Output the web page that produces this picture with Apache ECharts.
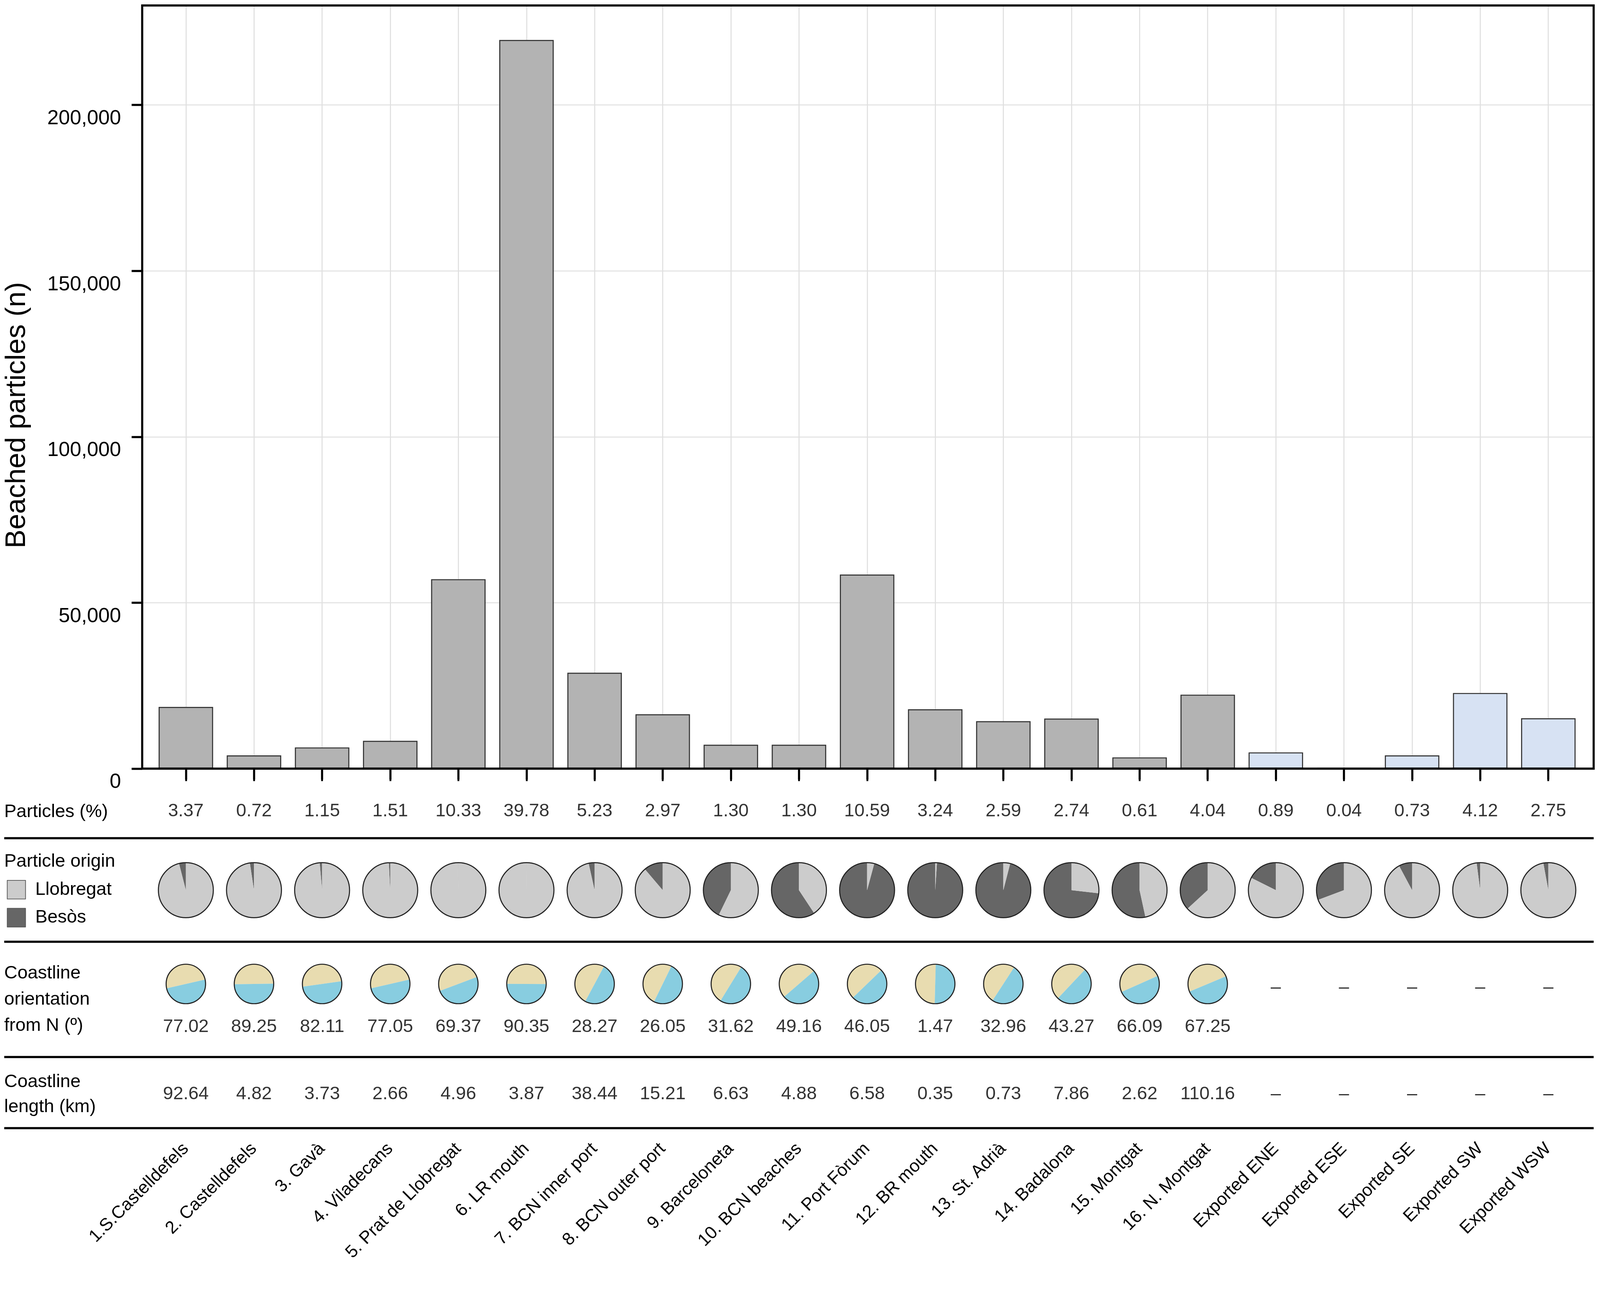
<!DOCTYPE html>
<html>
<head>
<meta charset="utf-8">
<script src="https://cdn.jsdelivr.net/npm/echarts@6/dist/echarts.min.js"></script>
<style>
html, body { margin: 0; padding: 0; background: #fff; overflow: hidden; }
#chart { width: 100vw; height: 100vh; }
</style>
</head>
<body>
<div id="chart"></div>
<script>
// ---- data ----
const sites = ['1.S.Castelldefels', '2. Castelldefels', '3. Gavà', '4. Viladecans', '5. Prat de Llobregat',
    '6. LR mouth', '7. BCN inner port', '8. BCN outer port', '9. Barceloneta', '10. BCN beaches',
    '11. Port Fòrum', '12. BR mouth', '13. St. Adrià', '14. Badalona', '15. Montgat', '16. N. Montgat',
    'Exported ENE', 'Exported ESE', 'Exported SE', 'Exported SW', 'Exported WSW'];
const beached = [18600, 4000, 6400, 8400, 57100, 219600, 28900, 16400, 7200, 7200,
    58500, 17900, 14300, 15100, 3400, 22300, 4900, 220, 4000, 22800, 15200];
const particlesPct = ['3.37', '0.72', '1.15', '1.51', '10.33', '39.78', '5.23', '2.97', '1.30', '1.30',
    '10.59', '3.24', '2.59', '2.74', '0.61', '4.04', '0.89', '0.04', '0.73', '4.12', '2.75'];
// share of particles coming from the Besòs (%), the rest from the Llobregat
const besosShare = [4.0, 2.4, 1.4, 0.8, 0.2, 0.1, 3.5, 11.2, 42.8, 59.3,
    95.8, 99.0, 96.0, 73.2, 53.4, 36.8, 17.6, 30.7, 7.8, 2.1, 2.9];
const orientation = ['77.02', '89.25', '82.11', '77.05', '69.37', '90.35', '28.27', '26.05', '31.62', '49.16',
    '46.05', '1.47', '32.96', '43.27', '66.09', '67.25', null, null, null, null, null];
const coastLength = ['92.64', '4.82', '3.73', '2.66', '4.96', '3.87', '38.44', '15.21', '6.63', '4.88',
    '6.58', '0.35', '0.73', '7.86', '2.62', '110.16', null, null, null, null, null];
const yTicks = [0, 50000, 100000, 150000, 200000];

// ---- layout (designed on a 4543 x 3314 page, scaled to the real page) ----
const FONT = '"Liberation Sans", Arial, sans-serif';
let chart = echarts.init(document.getElementById('chart'));
const Sx = chart.getWidth() / 4543, Sy = chart.getHeight() / 3314, F = Math.min(Sx, Sy);
function sx(v) { return v * Sx; }
function sy(v) { return v * Sy; }
function sf(v) { return v * F; }

const FRAME = {left: sx(403), right: sx(18), top: sy(14), bottom: sy(1347)};
const PLOT = {left: sx(431), right: sx(50), top: sy(14), bottom: sy(1347)};
const TABLE = {left: sx(431), right: sx(50), top: sy(1967), bottom: sy(427)};
// row positions inside the table grid (0 = plot bottom, 920 = last rule)
const ROW = {pct: 109, line1: 178, originPie: 311, line2: 443, orientPie: 551, orientDash: 560,
    orientVal: 661, line3: 738, lengthVal: 833, line4: 920,
    pctLabel: 111, originLabel: 238, orientLabel: 591, lengthLabel: 834};

const C_BAR = '#b3b3b3', C_EXP = '#d7e2f3';
const C_LLOB = '#cccccc', C_BESOS = '#666666';
const C_LAND = '#e8dcb0', C_SEA = '#88cde0';

function textRow(values, y) {
    let data = [];
    values.forEach(function (v, i) {
        data.push({value: [i, y], txt: v === null ? '–' : v});
    });
    return {
        type: 'scatter', xAxisIndex: 2, yAxisIndex: 2, symbolSize: 1, silent: true,
        itemStyle: {color: 'transparent'},
        label: {show: true, position: 'inside', color: '#000', fontSize: sf(52), fontFamily: FONT,
            formatter: function (p) { return p.data.txt; }},
        data: data
    };
}

let dashRow = textRow(orientation, ROW.orientDash);
dashRow.data = dashRow.data.filter(function (d) { return d.txt === '–'; });
let orientRow = textRow(orientation, ROW.orientVal);
orientRow.data = orientRow.data.filter(function (d) { return d.txt !== '–'; });

let series = [
    {
        type: 'bar', xAxisIndex: 1, yAxisIndex: 1, barCategoryGap: '20%',
        data: beached.map(function (v, i) {
            return {value: v, itemStyle: {color: sites[i].indexOf('Exported') === 0 ? C_EXP : C_BAR}};
        }),
        itemStyle: {borderColor: '#333', borderWidth: sf(3)}
    },
    textRow(particlesPct, ROW.pct),
    orientRow,
    dashRow,
    textRow(coastLength, ROW.lengthVal)
];

let option = {
    backgroundColor: '#fff',
    animation: false,
    textStyle: {fontFamily: FONT},
    grid: [
        Object.assign({show: true, borderColor: '#000', borderWidth: sf(6), z: 3}, FRAME),
        PLOT,
        TABLE
    ],
    xAxis: [
        {gridIndex: 0, type: 'value', min: 0, max: 1, show: false},
        {
            gridIndex: 1, type: 'category', data: sites,
            axisLine: {show: false},
            axisTick: {show: true, alignWithLabel: true, length: sy(28), lineStyle: {color: '#000', width: sf(6)}},
            axisLabel: {show: false},
            splitLine: {show: true, alignWithLabel: true, lineStyle: {color: '#e0e0e0', width: sf(3)}}
        },
        {
            gridIndex: 2, type: 'category', data: sites,
            axisLine: {show: false},
            axisTick: {show: true, alignWithLabel: true, length: sy(32), lineStyle: {color: '#000', width: sf(5)}},
            axisLabel: {interval: 0, rotate: 45, margin: sy(46), fontSize: sf(50), color: '#000', fontFamily: FONT},
            splitLine: {show: false}
        }
    ],
    yAxis: [
        {
            gridIndex: 0, type: 'value', min: 0, max: 230000, interval: 50000,
            name: 'Beached particles (n)', nameLocation: 'middle', nameGap: sx(315),
            nameTextStyle: {fontSize: sf(80), color: '#000', fontFamily: FONT, padding: [0, sy(144), 0, 0]},
            axisLine: {show: false},
            axisTick: {show: true, length: sx(30), customValues: yTicks, lineStyle: {color: '#000', width: sf(6)}},
            axisLabel: {
                customValues: yTicks, fontSize: sf(58), margin: sx(60), color: '#000',
                fontFamily: FONT, verticalAlign: 'top', lineHeight: sy(70),
                formatter: function (v) { return v.toLocaleString('en-US'); }
            },
            splitLine: {show: true, lineStyle: {color: '#e0e0e0', width: sf(3)}}
        },
        {gridIndex: 1, type: 'value', min: 0, max: 230000, show: false, splitLine: {show: false}},
        {gridIndex: 2, type: 'value', min: 0, max: 920, inverse: true, show: false, splitLine: {show: false}}
    ],
    legend: {
        data: ['Llobregat', 'Besòs'], orient: 'vertical', left: sx(14), top: sy(2247),
        itemWidth: sf(52), itemHeight: sf(53), itemGap: sy(22), icon: 'rect',
        itemStyle: {borderColor: '#555', borderWidth: sf(2)},
        textStyle: {fontSize: sf(52), color: '#000', fontFamily: FONT, padding: [0, 0, 0, sx(22)]}
    },
    series: series
};
chart.setOption(option);

// ---- second pass: pies, rules and row labels placed through the table grid's scales ----
function py(y) { return chart.convertToPixel({yAxisIndex: 2}, y); }
function px(i, y) { return [chart.convertToPixel({xAxisIndex: 2}, i), py(y)]; }
function outline(center, r) {
    return {
        type: 'pie', center: center, radius: r, silent: true, label: {show: false}, z: 4,
        data: [{name: 'outline', value: 1,
            itemStyle: {color: 'transparent', borderColor: '#222', borderWidth: sf(3)}}]
    };
}
sites.forEach(function (name, i) {
    let c = px(i, ROW.originPie);
    series.push({
        type: 'pie', center: c, radius: sf(78), clockwise: false, startAngle: 90,
        label: {show: false}, emphasis: {scale: false},
        data: [
            {name: 'Besòs', value: besosShare[i], itemStyle: {color: C_BESOS}},
            {name: 'Llobregat', value: 100 - besosShare[i], itemStyle: {color: C_LLOB}}
        ]
    });
    series.push(outline(c, sf(78)));
    if (orientation[i] !== null) {
        let c2 = px(i, ROW.orientPie);
        // split line follows the coastline heading from N, land on the left
        series.push({
            type: 'pie', center: c2, radius: sf(56), startAngle: 270 - parseFloat(orientation[i]),
            label: {show: false}, emphasis: {scale: false},
            data: [
                {name: 'Land', value: 50, itemStyle: {color: C_LAND}},
                {name: 'Sea', value: 50, itemStyle: {color: C_SEA}}
            ]
        });
        series.push(outline(c2, sf(56)));
    }
});

let graphic = [];
[ROW.line1, ROW.line2, ROW.line3, ROW.line4].forEach(function (r) {
    let y = py(r);
    graphic.push({type: 'line', silent: true, z: 5,
        shape: {x1: sx(12), y1: y, x2: chart.getWidth() - FRAME.right, y2: y},
        style: {stroke: '#000', lineWidth: sf(6)}});
});
function rowLabel(text, r, lh) {
    return {type: 'text', x: sx(12), y: py(r), silent: true,
        style: {text: text, fill: '#000', fontSize: sf(52), fontFamily: FONT, lineHeight: sy(lh || 60),
            align: 'left', verticalAlign: 'middle'}};
}
graphic.push(rowLabel('Particles (%)', ROW.pctLabel));
graphic.push(rowLabel('Particle origin', ROW.originLabel));
graphic.push(rowLabel('Coastline\norientation\nfrom N (º)', ROW.orientLabel, 67));
graphic.push(rowLabel('Coastline\nlength (km)', ROW.lengthLabel, 64));

chart.setOption({series: series, graphic: graphic});
</script>
</body>
</html>
